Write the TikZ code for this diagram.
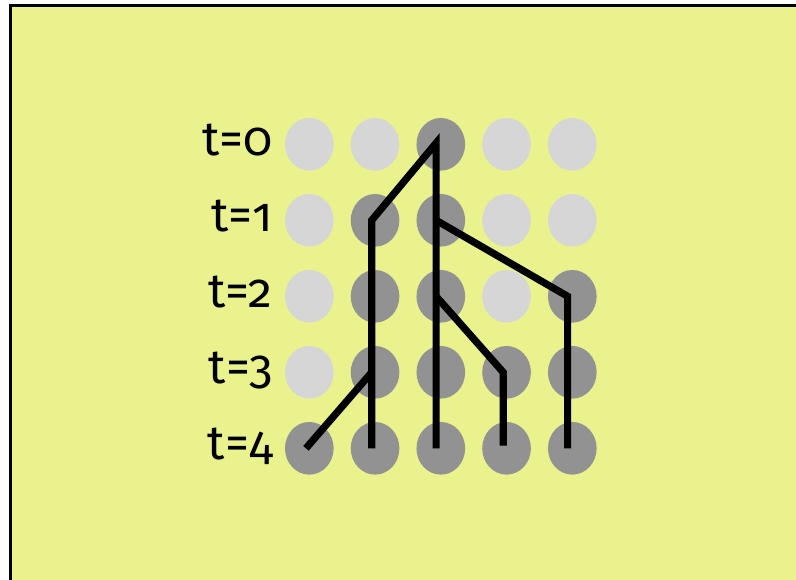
\documentclass[tikz,border=0pt]{standalone}
\usepackage{fontspec}
\setmainfont[Numbers=OldStyle]{Fira Sans}
\usetikzlibrary{shapes.geometric}

\definecolor{bgyellow}{RGB}{234,242,142}
\definecolor{offdot}{RGB}{214,214,214}
\definecolor{ondot}{RGB}{146,146,146}

\tikzset{
  dot/.style={ellipse, inner sep=0pt, minimum width=36.5pt, minimum height=39.5pt},
  branch/.style={line width=5.4pt, line join=miter},
  timelabel/.style={anchor=base east, inner sep=0pt, font=\fontsize{36}{40}\selectfont}
}

\begin{document}
\begin{tikzpicture}[x=0.75pt, y=-0.75pt]
  \useasboundingbox (0,0) rectangle (796,579);
  % background panel
  \draw[line width=2.3pt, fill=bgyellow] (10.5,5.5) rectangle (810,600);

  % empty sites
  \foreach \r/\c in {0/0,0/1,0/3,0/4,1/0,1/3,1/4,2/0,2/3,3/0}
    \node[dot, fill=offdot] (d\r\c) at ({309.3+65.75*\c},{144.3+76*\r}) {};
  % occupied sites
  \foreach \r/\c in {0/2,1/1,1/2,2/1,2/2,2/4,3/1,3/2,3/3,3/4,4/0,4/1,4/2,4/3,4/4}
    \node[dot, fill=ondot] (d\r\c) at ({309.3+65.75*\c},{144.3+76*\r}) {};

  % time labels
  \foreach \r in {0,...,4}
    \node[timelabel] (t\r) at (273,{155+76*\r}) {t=\r};

  % lineage tree
  \draw[branch] ([xshift=-3.5pt]d42.center) -- ([xshift=-3.5pt,yshift=1pt]d02.center)
    -- ([xshift=-2.5pt]d11.center) -- ([xshift=-2.5pt]d41.center);
  \draw[branch] ([xshift=-3.5pt]d12.center) -- ([xshift=-3.5pt]d24.center) -- ([xshift=-3.5pt]d44.center);
  \draw[branch] ([xshift=-3.5pt]d22.center) -- ([xshift=-2.5pt]d33.center) -- ([xshift=-2.5pt,yshift=2pt]d43.center);
  \draw[branch] ([xshift=-2.5pt]d40.center) -- ([xshift=-2.5pt]d31.center);
\end{tikzpicture}
\end{document}
